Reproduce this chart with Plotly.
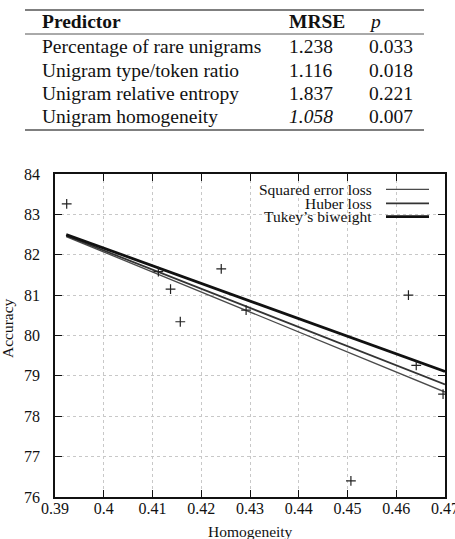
import plotly.graph_objects as go

# ---- Table data ----
predictors = ["Percentage of rare unigrams", "Unigram type/token ratio",
              "Unigram relative entropy", "Unigram homogeneity"]
mrse = ["1.238", "1.116", "1.837", "<i>1.058</i>"]
pvals = ["0.033", "0.018", "0.221", "0.007"]

# ---- Scatter data ----
homogeneity = [0.3924, 0.4112, 0.4137, 0.4157, 0.4241, 0.4292, 0.4507, 0.4625, 0.4641, 0.4696]
accuracy = [83.26, 81.58, 81.15, 80.34, 81.65, 80.63, 76.40, 81.00, 79.26, 78.55]

# ---- Regression line endpoints ----
fit_x = [0.3923, 0.47]
squared_y = [82.45, 78.60]
huber_y = [82.47, 78.79]
tukey_y = [82.50, 79.11]

series_names = ["Squared error loss", "Huber loss", "Tukey\u2019s biweight"]

W, H = 455, 539
PL, PR, PT, PB = 55, 445, 174, 497  # plot area pixels


def px(x):
    return (x - PL) / (PR - PL)


def py(y):
    return (PB - y) / (PB - PT)


FONT = "Liberation Serif"

fig = go.Figure()

line_styles = [dict(color="#4a4a4a", width=1.3),
               dict(color="#333333", width=1.8),
               dict(color="#111111", width=2.8)]
for name, ys, st in zip(series_names, [squared_y, huber_y, tukey_y], line_styles):
    fig.add_trace(go.Scatter(x=fit_x, y=ys, mode="lines", line=st, name=name,
                             showlegend=False, cliponaxis=True))

fig.add_trace(go.Scatter(x=homogeneity, y=accuracy, mode="markers",
                         marker=dict(symbol="cross-thin", size=7,
                                     line=dict(color="#222", width=1.2)),
                         showlegend=False))

annotations = []
shapes = []

# ---- Table ----
TFS = 19.5
for yy, w in [(10, 1.6), (34, 1.0), (130, 1.6)]:
    shapes.append(dict(type="line", xref="paper", yref="paper",
                       x0=px(25), x1=px(424), y0=py(yy), y1=py(yy),
                       line=dict(color="#555", width=w)))

header_y = 21.5
row_ys = [46.5, 70.5, 93.5, 116.5]
col_x = [40, 287, 367]
headers = ["<b>Predictor</b>", "<b>MRSE</b>", "<i>p</i>"]
for cx, txt in zip(col_x, headers):
    annotations.append(dict(x=px(cx), y=py(header_y), xref="paper", yref="paper",
                            text=txt, showarrow=False, xanchor="left", yanchor="middle",
                            font=dict(family=FONT, size=TFS, color="#111")))
for i, ry in enumerate(row_ys):
    for cx, txt in zip(col_x, [predictors[i], mrse[i], pvals[i]]):
        annotations.append(dict(x=px(cx), y=py(ry), xref="paper", yref="paper",
                                text=txt, showarrow=False, xanchor="left", yanchor="middle",
                                font=dict(family=FONT, size=TFS, color="#111")))

# ---- Manual legend ----
leg_ys = [189.3, 203.3, 216.7]
for name, ly, st in zip(series_names, leg_ys, line_styles):
    annotations.append(dict(x=px(373), y=py(ly), xref="paper", yref="paper",
                            text=name, showarrow=False, xanchor="right", yanchor="middle",
                            borderpad=0,
                            font=dict(family=FONT, size=15.5, color="#111")))
    shapes.append(dict(type="line", xref="paper", yref="paper",
                       x0=px(386), x1=px(429), y0=py(ly), y1=py(ly),
                       line=st))

# ---- Axis titles ----
annotations.append(dict(x=px(250), y=py(531), xref="paper", yref="paper",
                        text="Homogeneity", showarrow=False, xanchor="center", yanchor="middle",
                        font=dict(family=FONT, size=15.5, color="#111")))
annotations.append(dict(x=px(7), y=py(328), xref="paper", yref="paper",
                        text="Accuracy", showarrow=False, xanchor="center", yanchor="middle",
                        textangle=-90, font=dict(family=FONT, size=15.5, color="#111")))

axis_common = dict(showline=True, linecolor="#111", linewidth=1.5, mirror="ticks",
                   ticks="inside", ticklen=7, tickwidth=1.2, tickcolor="#111",
                   showgrid=True, gridcolor="#c8c8c8", griddash="dot", gridwidth=1,
                   zeroline=False, automargin=False,
                   tickfont=dict(family=FONT, size=16, color="#111"))

fig.update_layout(
    width=W, height=H,
    margin=dict(l=PL, r=W - PR, t=PT, b=H - PB),
    paper_bgcolor="white", plot_bgcolor="white",
    xaxis=dict(range=[0.39, 0.47], tickmode="array",
               tickvals=[0.39, 0.40, 0.41, 0.42, 0.43, 0.44, 0.45, 0.46, 0.47],
               ticktext=["0.39", "0.4", "0.41", "0.42", "0.43", "0.44", "0.45", "0.46", "0.47"],
               ticklabelstandoff=-4, ticklabeloverflow="allow", **axis_common),
    yaxis=dict(range=[76, 84], tickmode="array",
               tickvals=[76, 77, 78, 79, 80, 81, 82, 83, 84],
               ticklabelstandoff=10, **axis_common),
    annotations=annotations, shapes=shapes,
    showlegend=False,
)

fig.write_html("out.html")
